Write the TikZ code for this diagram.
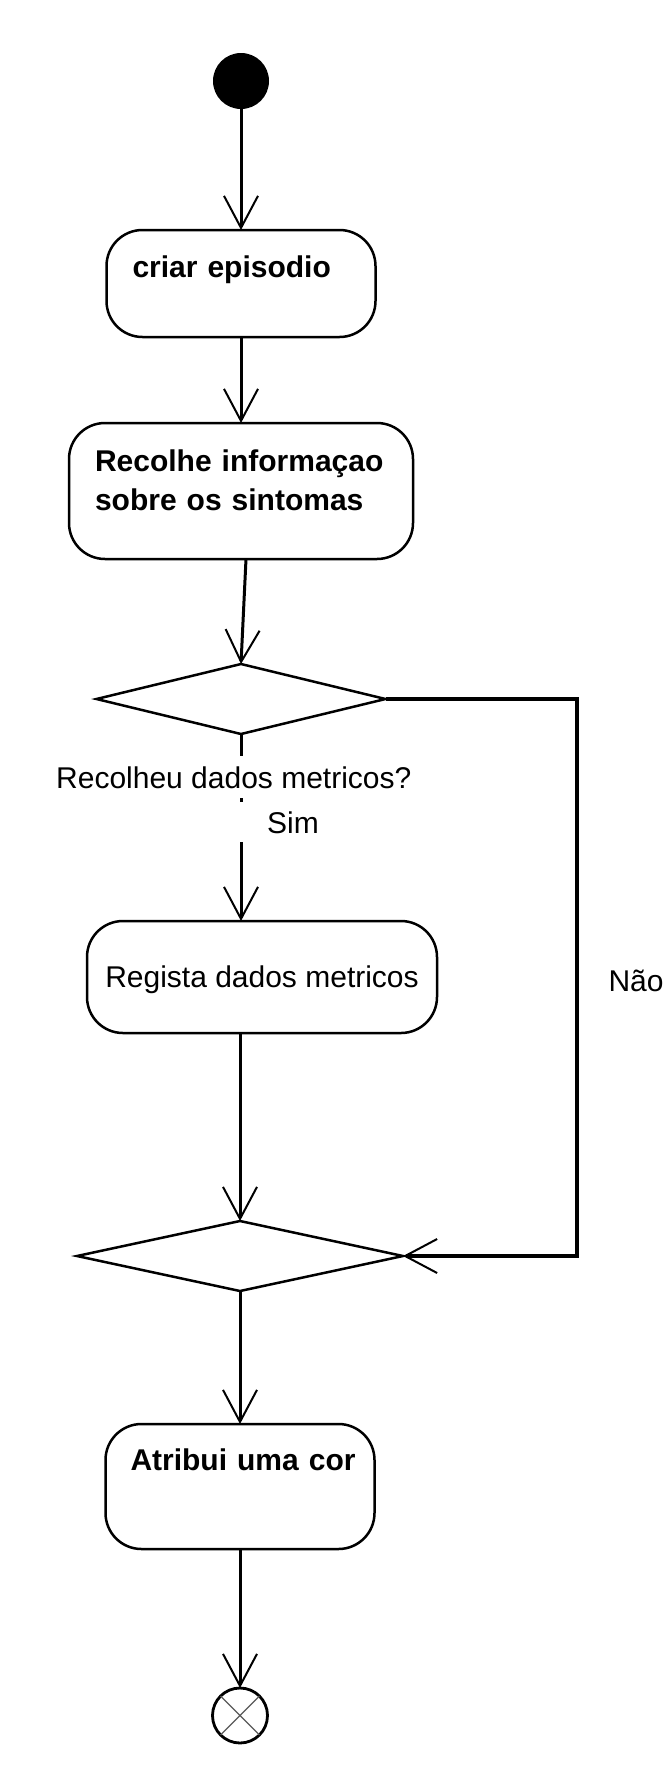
\documentclass[tikz,border=0pt]{standalone}
\usepackage{fontspec}
\setmainfont{Liberation Sans}
\usetikzlibrary{arrows.meta,shapes.geometric,positioning}
\tikzset{
    activity/.style={draw, rounded corners=36pt, line width=2.5pt, outer sep=0pt, inner xsep=26pt, inner ysep=0pt, align=left, font=\bfseries\fontsize{30}{39}\selectfont},
    decision/.style={draw, diamond, line width=2.5pt, outer sep=0pt, inner sep=0pt, minimum height=70pt},
    flow/.style={-{Straight Barb[length=32pt, width=34pt, line width=2pt]}, line width=3pt},
    initial/.style={circle, fill=black, minimum size=56pt, inner sep=0pt, outer sep=0pt},
    final/.style={circle, draw, line width=2.8pt, minimum size=55pt, inner sep=0pt, outer sep=0pt},
    guard/.style={fill=white, inner ysep=10pt, font=\fontsize{30}{36}\selectfont}
}

\begin{document}
\begin{tikzpicture}[x=1pt, y=-1pt]
\useasboundingbox (0,0) rectangle (672,1770);

\node[initial] (start) at (241,81) {};
\node[activity, below=121pt of start, text width=217pt, text height=47pt, text depth=60pt] (b1) {criar episodio};
\node[activity, below=86pt of b1, text width=292pt, text height=48pt, text depth=88pt] (b2) {Recolhe informaçao\\sobre os sintomas};
\node[decision, below=105pt of b2, minimum width=289pt] (d1) {};
\node[activity, below=187pt of d1, xshift=21pt, align=center, inner xsep=16pt, minimum width=350pt, text height=66pt, text depth=46pt, font=\fontsize{30}{39}\selectfont] (b3) {Regista dados metricos};
\node[decision, below=188pt of b3, xshift=-22pt, minimum width=326pt] (d2) {};
\node[activity, below=133pt of d2, text width=219pt, inner xsep=25pt, text height=46pt, text depth=79pt] (b4) {\mbox{Atribui uma cor}};
\node[final, below=139pt of b4] (fin) {};
\draw[line width=1.3pt, black!65] (fin.north west) -- (fin.south east) (fin.north east) -- (fin.south west);

\draw[flow] (start) -- (b1);
\draw[flow] (b1) -- (b2);
\draw[flow] ([xshift=5pt]b2.south) -- (d1.north);
\draw[flow] (d1.south) -- (d1.south |- b3.north);
\draw[flow] (b3.south -| d2.north) -- (d2.north);
\draw[flow, line width=4pt] (d1.east) -- ++(191,0) |- (d2.east);
\draw[flow] (d2) -- (b4);
\draw[flow] (b4) -- (fin);

% guards
\node[guard, anchor=base west, inner xsep=0pt] (q1) at (56,788) {Recolheu dados metricos?};
\node[guard, anchor=base west, inner ysep=9pt, inner xsep=27pt] (sim) at (240,833) {Sim};
\node[anchor=base west, font=\fontsize{30}{36}\selectfont] (nao) at (605,991) {Não};
\end{tikzpicture}
\end{document}
